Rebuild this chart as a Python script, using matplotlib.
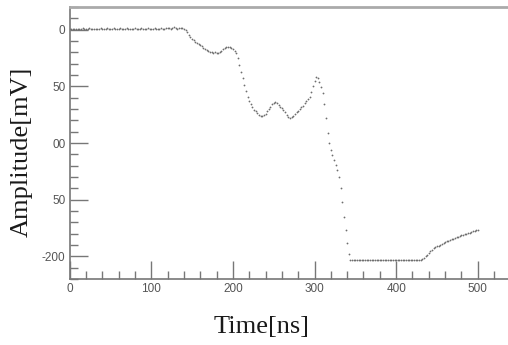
import numpy as np
import matplotlib
matplotlib.use("Agg")
import matplotlib.pyplot as plt
from matplotlib.ticker import MultipleLocator

# waveform, one value every 2 ns
time_ns = np.arange(0, 501, 2)
amplitude_mv = [
    0.3, 0.5, 0.2, 0.6, 0.4, 0.8, 0.3, 0.5, 1.0, 0.6,
    0.2, 0.7, 1.1, 0.5, 0.3, 0.9, 0.6, 0.2, 0.8, 1.2,
    0.7, 0.3, 0.6, 1.0, 0.5, 0.2, 0.9, 1.3, 0.8, 0.4,
    0.7, 1.1, 0.6, 0.3, 0.8, 1.2, 0.9, 0.5, 0.2, 0.7,
    1.0, 0.6, 0.3, 0.8, 1.1, 0.5, 0.2, 0.6, 1.0, 0.7,
    0.3, 0.8, 1.2, 0.7, 0.4, 0.9, 1.3, 0.8, 0.5, 1.0,
    1.6, 1.0, 0.5, 1.4, 2.0, 1.2, 0.6, 1.1, 1.8, 1.3,
    0.8, -0.5, -2.5, -4.5, -6.5, -8.0, -9.5, -11.0, -12.0, -13.0,
    -13.5, -14.5, -16.0, -17.0, -18.0, -18.5, -19.5, -20.0, -20.5, -20.0,
    -20.5, -20.5, -20.0, -18.5, -17.0, -16.0, -15.5, -15.0, -15.0, -16.0,
    -17.0, -18.5, -21.0, -25.0, -31.0, -37.0, -43.0, -49.0, -54.0, -59.0,
    -63.0, -66.0, -68.5, -70.5, -72.0, -73.5, -75.0, -76.0, -76.5, -75.5,
    -74.0, -72.0, -70.0, -68.0, -66.0, -64.5, -64.0, -65.0, -66.5, -68.0,
    -69.5, -71.0, -73.0, -75.0, -77.0, -78.0, -77.5, -76.0, -74.5, -73.0,
    -71.5, -70.0, -68.5, -67.0, -65.0, -63.0, -61.0, -59.0, -55.0, -50.0,
    -45.0, -42.0, -43.0, -46.0, -51.0, -56.0, -66.0, -78.0, -91.0, -100.0,
    -106.0, -111.0, -115.0, -119.0, -124.0, -130.0, -140.0, -152.0, -165.0, -177.0,
    -188.0, -198.0, -203.5, -203.5, -203.5, -203.5, -203.5, -203.5, -203.5, -203.5,
    -203.5, -203.5, -203.5, -203.5, -203.5, -203.5, -203.5, -203.5, -203.5, -203.5,
    -203.5, -203.5, -203.5, -203.5, -203.5, -203.5, -203.5, -203.5, -203.5, -203.5,
    -203.5, -203.5, -203.5, -203.5, -203.5, -203.5, -203.5, -203.5, -203.5, -203.5,
    -203.5, -203.5, -203.5, -203.5, -203.5, -203.0, -202.0, -201.0, -200.0, -198.5,
    -197.0, -195.5, -194.5, -193.0, -192.0, -191.0, -190.5, -189.5, -189.0, -188.0,
    -187.5, -186.5, -186.0, -185.5, -185.0, -184.5, -184.0, -183.0, -182.5, -182.0,
    -181.5, -181.0, -180.5, -180.0, -179.5, -179.0, -178.5, -178.0, -177.5, -177.0,
    -176.5,
]

x_ticks = [0, 100, 200, 300, 400, 500]
y_ticks = [0, -50, -100, -150, -200]
# the left edge of the y labels is cut off in the original picture
y_tick_labels = ["0", "50", "00", "50", "-200"]

fig = plt.figure(figsize=(5.08, 3.45), dpi=100)
ax = fig.add_axes([0.137, 0.191, 0.863, 0.789])

ax.plot(time_ns, amplitude_mv, linestyle="none", marker="o",
        markersize=1.3, markeredgewidth=0, color="#6e6e6e")

ax.set_xlim(0, 537)
ax.set_ylim(-220, 20)
ax.set_xticks(x_ticks)
ax.set_yticks(y_ticks)
ax.set_yticklabels(y_tick_labels)
ax.xaxis.set_minor_locator(MultipleLocator(20))
ax.yaxis.set_minor_locator(MultipleLocator(10))

ax.tick_params(which="major", direction="in", length=13, width=1,
               color="#777777", labelcolor="#555555", labelsize=8.5,
               pad=3)
ax.tick_params(which="minor", direction="in", length=6, width=1,
               color="#777777")
for lab in ax.get_xticklabels() + ax.get_yticklabels():
    lab.set_family("Liberation Sans")

ax.spines["right"].set_visible(False)
ax.spines["left"].set_color("#777777")
ax.spines["bottom"].set_color("#777777")
ax.spines["left"].set_linewidth(1.2)
ax.spines["bottom"].set_linewidth(1.2)
ax.spines["top"].set_color("#aaaaaa")
ax.spines["top"].set_linewidth(2)

fig.text(0.043, 0.56, "Amplitude[mV]", rotation=90, ha="center", va="center",
         fontsize=19, family="Liberation Serif", color="#1a1a1a")
fig.text(0.514, 0.052, "Time[ns]", ha="center", va="center",
         fontsize=19, family="Liberation Serif", color="#1a1a1a")

fig.savefig("out.png", dpi=100)
